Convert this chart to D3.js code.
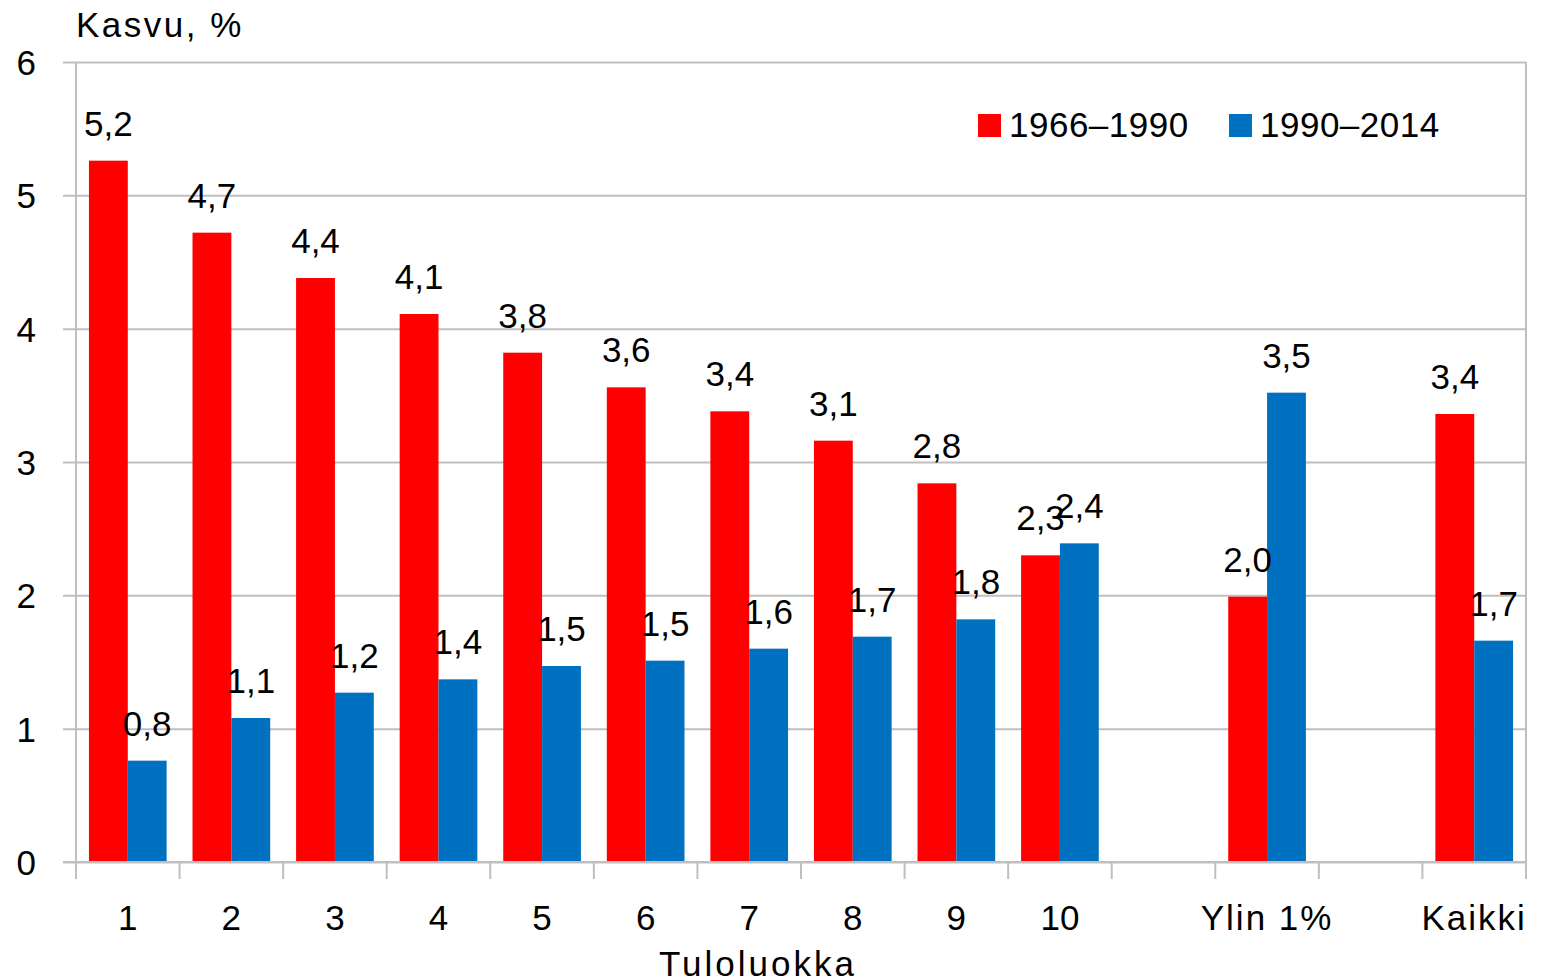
<!DOCTYPE html>
<html>
<head>
<meta charset="utf-8">
<script src="https://cdn.jsdelivr.net/npm/d3@7"></script>
<style>
  html, body { margin: 0; padding: 0; background: #fff; }
  svg { display: block; }
  text { font-family: "Liberation Sans", Arial, sans-serif; fill: #000; }
</style>
</head>
<body>
<svg id="chart" width="1541" height="980"></svg>
<script>
// data
const categories = ["1", "2", "3", "4", "5", "6", "7", "8", "9", "10", "", "Ylin 1%", " ", "Kaikki"];
const series = ["1966–1990", "1990–2014"];
const values1966 = [5.26, 4.72, 4.38, 4.11, 3.82, 3.56, 3.38, 3.16, 2.84, 2.30, null, 1.99, null, 3.36];
const values1990 = [0.76, 1.08, 1.27, 1.37, 1.47, 1.51, 1.60, 1.69, 1.82, 2.39, null, 3.52, null, 1.66];
const labels1966 = ["5,2", "4,7", "4,4", "4,1", "3,8", "3,6", "3,4", "3,1", "2,8", "2,3", "", "2,0", "", "3,4"];
const labels1990 = ["0,8", "1,1", "1,2", "1,4", "1,5", "1,5", "1,6", "1,7", "1,8", "2,4", "", "3,5", "", "1,7"];
const yTicks = [0, 1, 2, 3, 4, 5, 6];
const colors = ["#ff0000", "#0070c0"];

const svg = d3.select("#chart");
const margin = {left: 76, right: 15, top: 62, bottom: 118};
const W = 1541, H = 980;
const gridColor = "#bfbfbf";

const x0 = d3.scaleBand()
    .domain(categories)
    .range([margin.left, W - margin.right])
    .paddingInner(0.25)
    .paddingOuter(0.125);
const x1 = d3.scaleBand()
    .domain(series)
    .range([0, x0.bandwidth()]);
const y = d3.scaleLinear()
    .domain([0, 6])
    .range([H - margin.bottom, margin.top]);

// gridlines + y axis
const yAxis = d3.axisLeft(y)
    .tickValues(yTicks)
    .tickSize(-(W - margin.right - margin.left) - 13)
    .tickPadding(0)
    .tickFormat(d3.format("d"));
const gy = svg.append("g")
    .attr("transform", `translate(${margin.left - 13},0)`)
    .call(yAxis);
gy.select(".domain").remove();
gy.selectAll(".tick line").attr("stroke", gridColor).attr("stroke-width", 2);
gy.selectAll(".tick text")
    .attr("x", -27)
    .attr("dy", "0.36em")
    .attr("font-size", 35)
    .attr("font-family", "Liberation Sans, Arial, sans-serif");

// left and right border lines
svg.append("line")
    .attr("x1", margin.left).attr("x2", margin.left)
    .attr("y1", margin.top).attr("y2", H - margin.bottom)
    .attr("stroke", gridColor).attr("stroke-width", 2);
svg.append("line")
    .attr("x1", W - margin.right).attr("x2", W - margin.right)
    .attr("y1", margin.top).attr("y2", H - margin.bottom)
    .attr("stroke", gridColor).attr("stroke-width", 2);

// x axis ticks between categories
const step = x0.step();
const tickPos = d3.range(categories.length + 1).map(i => margin.left + i * step);
svg.append("g").selectAll("line")
    .data(tickPos)
    .join("line")
    .attr("x1", d => d).attr("x2", d => d)
    .attr("y1", H - margin.bottom).attr("y2", H - margin.bottom + 17)
    .attr("stroke", gridColor).attr("stroke-width", 2);

// bars
const rows = categories.map((c, i) => ({
    cat: c,
    vals: [
        {s: series[0], v: values1966[i], lab: labels1966[i], k: 0},
        {s: series[1], v: values1990[i], lab: labels1990[i], k: 1}
    ].filter(d => d.v != null)
}));

const groups = svg.append("g").selectAll("g")
    .data(rows)
    .join("g")
    .attr("transform", d => `translate(${x0(d.cat)},0)`);

groups.selectAll("rect")
    .data(d => d.vals)
    .join("rect")
    .attr("x", d => x1(d.s))
    .attr("y", d => y(d.v))
    .attr("width", x1.bandwidth())
    .attr("height", d => y(0) - y(d.v))
    .attr("fill", d => colors[d.k]);

// bottom axis line above bars
svg.append("line")
    .attr("x1", margin.left - 13).attr("x2", W - margin.right)
    .attr("y1", y(0)).attr("y2", y(0))
    .attr("stroke", gridColor).attr("stroke-width", 2);

// data labels
groups.selectAll("text")
    .data(d => d.vals)
    .join("text")
    .attr("x", d => x1(d.s) + x1.bandwidth() / 2)
    .attr("y", d => y(d.v) - 25)
    .attr("text-anchor", "middle")
    .attr("font-size", 35)
    .text(d => d.lab);

// category labels
svg.append("g").selectAll("text")
    .data(categories)
    .join("text")
    .attr("x", d => x0(d) + x0.bandwidth() / 2)
    .attr("y", 930)
    .attr("text-anchor", "middle")
    .attr("font-size", 35)
    .attr("letter-spacing", d => d.length > 2 ? 2 : 0)
    .text(d => d.trim());

// axis titles
svg.append("text")
    .attr("x", 76).attr("y", 37)
    .attr("font-size", 35)
    .attr("letter-spacing", 2.5)
    .text("Kasvu, %");
svg.append("text")
    .attr("x", 758).attr("y", 976)
    .attr("text-anchor", "middle")
    .attr("font-size", 35)
    .attr("letter-spacing", 3)
    .text("Tuloluokka");

// legend
const legendX = [978, 1229];
const legend = svg.append("g").selectAll("g")
    .data(series)
    .join("g")
    .attr("transform", (d, i) => `translate(${legendX[i]},114)`);
legend.append("rect")
    .attr("width", 23).attr("height", 23)
    .attr("fill", (d, i) => colors[i]);
legend.append("text")
    .attr("x", 31).attr("y", 23)
    .attr("font-size", 35)
    .attr("letter-spacing", 0.5)
    .text(d => d);
</script>
</body>
</html>
